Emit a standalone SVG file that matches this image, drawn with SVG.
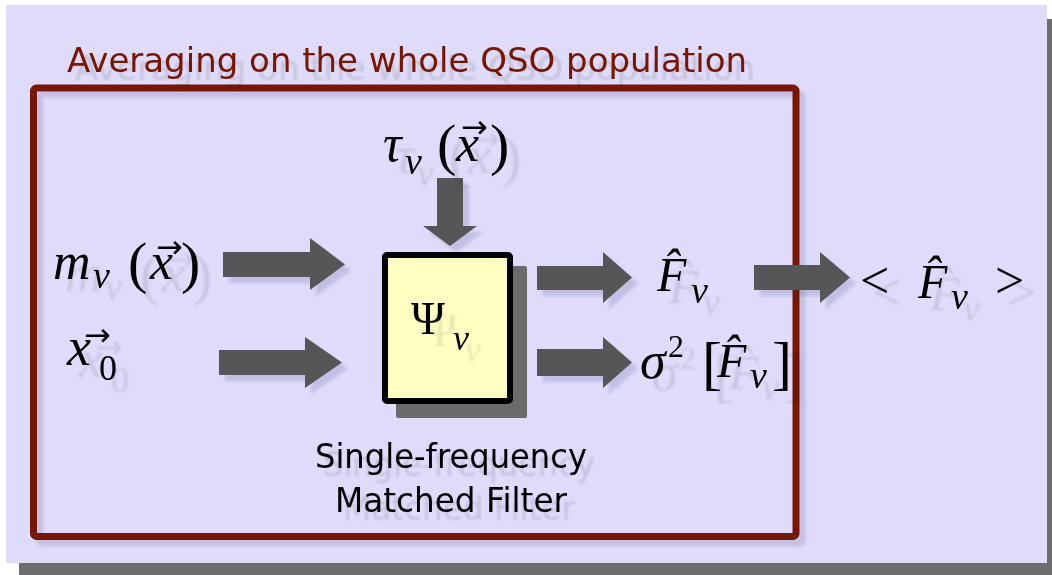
<svg xmlns="http://www.w3.org/2000/svg" width="1052" height="575" viewBox="0 0 1052 575">
<defs>
<style>
.math{font-family:"Liberation Serif","Times New Roman",serif;fill:#000}
.it{font-style:italic}
.vec{font-family:"DejaVu Sans",sans-serif;font-style:normal;font-size:32px}
.sans{font-family:"DejaVu Sans","Verdana",sans-serif}
.arrow{fill:#565656}
</style>
<filter id="tsh" x="-20%" y="-20%" width="150%" height="160%">
<feOffset in="SourceAlpha" dx="12" dy="12" result="o"/>
<feGaussianBlur in="o" stdDeviation="0.8" result="b"/>
<feFlood flood-color="#000" flood-opacity="0.1"/>
<feComposite in2="b" operator="in" result="s"/>
<feMerge><feMergeNode in="s"/><feMergeNode in="SourceGraphic"/></feMerge>
</filter>
<filter id="titlesh" x="-5%" y="-20%" width="110%" height="160%">
<feOffset in="SourceAlpha" dx="8" dy="8" result="o"/>
<feGaussianBlur in="o" stdDeviation="1" result="b"/>
<feFlood flood-color="#000" flood-opacity="0.12"/>
<feComposite in2="b" operator="in" result="s"/>
<feMerge><feMergeNode in="s"/><feMergeNode in="SourceGraphic"/></feMerge>
</filter>
<filter id="ash" x="-10%" y="-10%" width="130%" height="130%">
<feOffset in="SourceAlpha" dx="6" dy="6" result="o"/>
<feGaussianBlur in="o" stdDeviation="1.5" result="b"/>
<feFlood flood-color="#302a70" flood-opacity="0.16"/>
<feComposite in2="b" operator="in" result="s"/>
<feMerge><feMergeNode in="s"/><feMergeNode in="SourceGraphic"/></feMerge>
</filter>
</defs>

<g id="background">
<rect x="19" y="19" width="1040" height="560" fill="#6e6e6e"/>
<rect x="6" y="5" width="1041" height="558" fill="#dedcfa"/>
</g>

<g id="frame">
<rect x="33.5" y="88" width="762.5" height="448.5" rx="3" fill="none" stroke="#781404" stroke-width="7" filter="url(#ash)"/>
<text class="sans" x="67" y="72" font-size="34" fill="#781404" filter="url(#titlesh)">Averaging on the whole QSO population</text>
</g>

<g id="connectors" filter="url(#ash)">
<polygon class="arrow" points="223,252 310,252 310,238 345,264.5 310,290 310,277 223,277"/>
<polygon class="arrow" points="219,350 305,350 305,337 342,362.5 305,388 305,375 219,375"/>
<polygon class="arrow" points="437,178 463,178 463,226 477,226 450,246 423,226 437,226"/>
<polygon class="arrow" points="537,266 603,266 603,252 632,277.5 603,303 603,290 537,290"/>
<polygon class="arrow" points="537,349 603,349 603,337 632,362.5 603,388 603,376 537,376"/>
<polygon class="arrow" points="754,265 820,265 820,252 850,277.5 820,303 820,290 754,290"/>
</g>

<g id="filter-box">
<rect x="396" y="266" width="131" height="152" rx="2" fill="#6b6b6b"/>
<rect x="385" y="255" width="125" height="146" rx="2" fill="#ffffc2" stroke="#000" stroke-width="6"/>
<text class="math" x="411" y="334" font-size="46" filter="url(#tsh)">Ψ<tspan class="it" x="453" y="350" font-size="36">ν</tspan></text>
<g filter="url(#titlesh)">
<text class="sans" x="451" y="468" font-size="33" text-anchor="middle" textLength="272" lengthAdjust="spacingAndGlyphs">Single-frequency</text>
<text class="sans" x="451" y="512" font-size="33" text-anchor="middle" textLength="232" lengthAdjust="spacingAndGlyphs">Matched Filter</text>
</g>
</g>

<g id="tau" filter="url(#tsh)">
<text class="math" x="383" y="161" font-size="52"><tspan class="it">τ</tspan><tspan class="it" x="405" y="174" font-size="38">ν</tspan><tspan x="437" y="164" font-size="58">(</tspan><tspan class="it" x="456" y="161">x</tspan><tspan class="vec" x="461" y="138">→</tspan><tspan x="490" y="164" font-size="58">)</tspan></text>
</g>

<g id="m" filter="url(#tsh)">
<text class="math" x="53" y="279" font-size="52"><tspan class="it">m</tspan><tspan class="it" x="93" y="288" font-size="38">ν</tspan><tspan x="128" y="282" font-size="58">(</tspan><tspan class="it" x="150" y="279">x</tspan><tspan class="vec" x="156" y="258">→</tspan><tspan x="181" y="282" font-size="58">)</tspan></text>
</g>

<g id="x0" filter="url(#tsh)">
<text class="math" x="67" y="365" font-size="54"><tspan class="it">x</tspan><tspan class="vec" x="84" y="346">→</tspan><tspan x="99" y="380" font-size="36">0</tspan></text>
</g>

<g id="F" filter="url(#tsh)">
<text class="math" x="657" y="291" font-size="48"><tspan class="it">F̂</tspan><tspan class="it" x="691" y="303" font-size="38">ν</tspan></text>
</g>

<g id="sigma" filter="url(#tsh)">
<text class="math" x="640" y="378" font-size="52"><tspan class="it">σ</tspan><tspan x="668" y="357" font-size="32">2</tspan><tspan x="702" y="383" font-size="60">[</tspan><tspan class="it" x="717" y="377" font-size="48">F̂</tspan><tspan class="it" x="750" y="388" font-size="38">ν</tspan><tspan x="772" y="383" font-size="60">]</tspan></text>
</g>

<g id="F-average" filter="url(#tsh)">
<text class="math" x="860" y="298" font-size="52">&lt;<tspan class="it" x="918" y="298" font-size="48">F̂</tspan><tspan class="it" x="951" y="309" font-size="38">ν</tspan><tspan x="995" y="298">&gt;</tspan></text>
</g>
</svg>
